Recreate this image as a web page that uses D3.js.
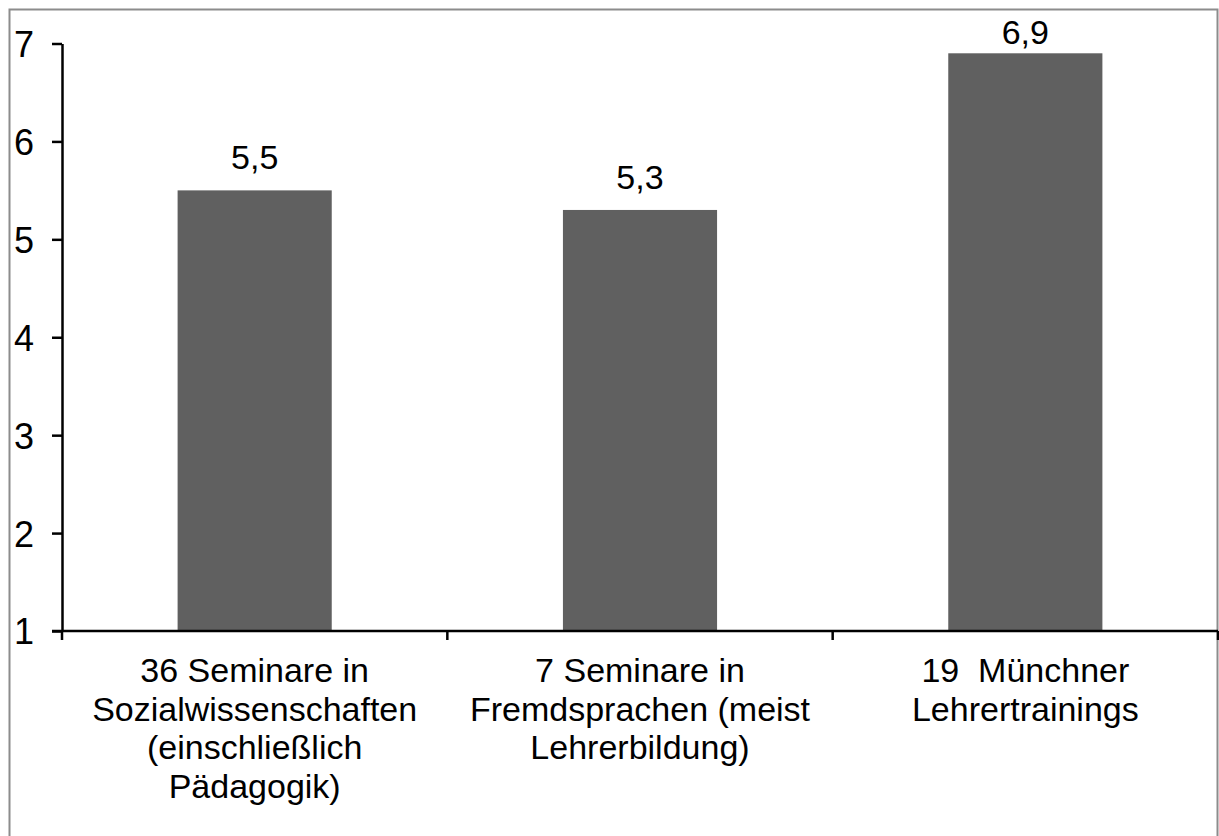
<!DOCTYPE html>
<html>
<head>
<meta charset="utf-8">
<script src="https://cdn.jsdelivr.net/npm/d3@7"></script>
<style>
  html, body { margin: 0; padding: 0; background: #fff; }
  svg { display: block; font-family: "Liberation Sans", Arial, sans-serif; }
</style>
</head>
<body>
<svg id="chart" width="1219" height="836"></svg>
<script>
const categories = [
  ["36 Seminare in", "Sozialwissenschaften", "(einschließlich", "Pädagogik)"],
  ["7 Seminare in", "Fremdsprachen (meist", "Lehrerbildung)"],
  ["19  Münchner", "Lehrertrainings"]
];
const values = [5.5, 5.3, 6.9];
const valueLabels = ["5,5", "5,3", "6,9"];
const yTicks = [1, 2, 3, 4, 5, 6, 7];

const W = 1219, H = 836;
const plot = { left: 62, right: 1218, top: 43.5, bottom: 631 };

const svg = d3.select("#chart");
svg.append("rect").attr("width", W).attr("height", H).attr("fill", "#fff");

// outer frame
svg.append("rect")
  .attr("x", 9.5).attr("y", 9.5)
  .attr("width", 1208).attr("height", 900)
  .attr("fill", "none").attr("stroke", "#8c8c8c").attr("stroke-width", 2);

const ids = categories.map((c, i) => i);
const x = d3.scaleBand().domain(ids).range([plot.left, plot.right]).padding(0);
const y = d3.scaleLinear().domain([1, 7]).range([plot.bottom, plot.top]);

const bw = x.bandwidth();
// bars
svg.append("g").selectAll("rect").data(values).join("rect")
  .attr("x", (d, i) => x(i) + bw * 0.3)
  .attr("width", bw * 0.4)
  .attr("y", d => y(d))
  .attr("height", d => y(1) - y(d))
  .attr("fill", "#606060");

// value labels
svg.append("g").selectAll("text").data(values).join("text")
  .attr("x", (d, i) => x(i) + bw / 2)
  .attr("y", d => Math.max(y(d) - 21, plot.top))
  .attr("text-anchor", "middle")
  .attr("font-size", 34)
  .attr("fill", "#000")
  .text((d, i) => valueLabels[i]);

// y axis
const yAxis = d3.axisLeft(y).tickValues(yTicks).tickSize(10).tickSizeOuter(0).tickFormat(d3.format("d"));
const gy = svg.append("g").attr("transform", `translate(${plot.left},0)`).call(yAxis);
gy.select(".domain").attr("stroke", "#000").attr("stroke-width", 2.5);
gy.selectAll(".tick line").attr("stroke", "#000").attr("stroke-width", 2.5);
gy.selectAll(".tick text")
  .attr("x", -28).attr("dy", "0.36em")
  .attr("font-size", 36).attr("font-family", "Liberation Sans, Arial, sans-serif")
  .attr("fill", "#000");

// x axis with ticks at band boundaries
const boundaries = ids.map(i => x(i)).concat([plot.right]);
const gx = svg.append("g");
gx.append("line")
  .attr("x1", plot.left - 10).attr("x2", plot.right)
  .attr("y1", plot.bottom).attr("y2", plot.bottom)
  .attr("stroke", "#000").attr("stroke-width", 2.5);
gx.selectAll("line.tk").data(boundaries).join("line").attr("class", "tk")
  .attr("x1", d => d).attr("x2", d => d)
  .attr("y1", plot.bottom).attr("y2", plot.bottom + 9)
  .attr("stroke", "#000").attr("stroke-width", 2.5);

// category labels
const lab = svg.append("g").selectAll("text").data(categories).join("text")
  .attr("text-anchor", "middle")
  .attr("font-size", 34)
  .attr("fill", "#000")
  .style("white-space", "pre")
  .attr("xml:space", "preserve");
lab.each(function(lines, i) {
  d3.select(this).selectAll("tspan").data(lines).join("tspan")
    .attr("x", x(i) + bw / 2)
    .attr("y", (d, j) => 682 + j * 38.5)
    .text(d => d);
});
</script>
</body>
</html>
